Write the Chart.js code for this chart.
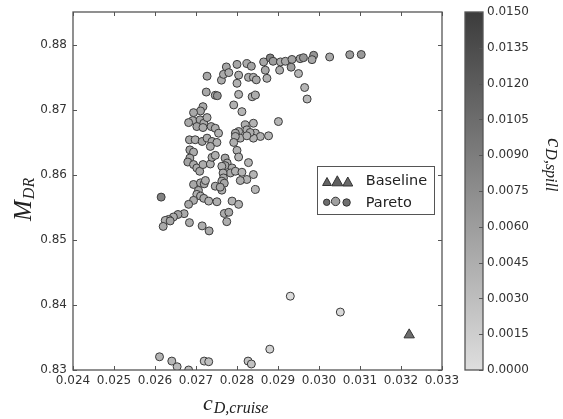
<!DOCTYPE html>
<html><head><meta charset="utf-8">
<script src="https://cdn.jsdelivr.net/npm/chart.js@4"></script>
<style>html,body{margin:0;padding:0;background:#fff}#wrap{width:563px;height:419px}</style>
</head><body><div id="wrap"><canvas id="c" width="563" height="419"></canvas></div>
<script>
// ---- data ----
const paretoCruise = [
0.02727,0.02762,0.02767,0.02774,0.02780,0.02800,0.02804,0.02800,0.02824,0.02835,
0.02828,0.02840,0.02847,0.02865,0.02881,0.02888,0.02869,0.02873,0.02906,0.02918,
0.02934,0.02932,0.02950,0.02954,0.02904,0.02962,0.02987,0.02983,0.03026,0.03075,
0.03103,0.02965,0.02971,
0.02725,0.02747,0.02752,0.02804,0.02837,0.02845,0.02717,0.02711,0.02792,0.02812,
0.02694,0.02692,0.02710,0.02719,0.02727,0.02737,0.02747,0.02755,0.02682,0.02702,
0.02717,0.02684,0.02698,0.02715,0.02727,0.02739,0.02751,0.02735,
0.02901,0.02820,0.02840,0.02804,0.02796,0.02824,0.02845,0.02857,0.02877,0.02808,
0.02840,0.02832,0.02824,0.02796,0.02792,0.02800,0.02804,0.02828,0.02771,0.02776,
0.02771,0.02788,0.02784,0.02796,0.02812,0.02840,
0.02685,0.02694,0.02685,0.02680,0.02694,0.02702,0.02709,0.02717,0.02735,0.02739,
0.02747,0.02763,0.02766,
0.02767,0.02763,0.02769,0.02763,0.02824,0.02808,0.02845,0.02694,0.02711,0.02720,
0.02723,0.02706,0.02702,0.02747,0.02759,0.02711,0.02719,0.02694,0.02682,0.02731,
0.02751,0.02615,0.02788,0.02804,
0.02671,0.02656,0.02645,0.02633,0.02625,0.02620,0.02637,0.02684,0.02715,0.02732,
0.02769,0.02780,0.02775,
0.02611,0.02641,0.02654,0.02682,0.02720,0.02731,0.02827,0.02835,0.02880,0.02930,
0.03052
];
const paretoMdr = [
0.87514,0.87453,0.87542,0.87656,0.87569,0.87695,0.87530,0.87405,0.87707,0.87667,
0.87496,0.87496,0.87458,0.87733,0.87794,0.87743,0.87606,0.87481,0.87733,0.87743,
0.87771,0.87652,0.87554,0.87783,0.87606,0.87798,0.87835,0.87768,0.87809,0.87844,
0.87847,0.87340,0.87163,
0.87270,0.87221,0.87214,0.87234,0.87198,0.87224,0.87046,0.86980,0.87072,0.86969,
0.86954,0.86832,0.86843,0.86791,0.86878,0.86740,0.86714,0.86638,0.86801,0.86740,
0.86725,0.86537,0.86537,0.86511,0.86562,0.86511,0.86496,0.86435,
0.86817,0.86766,0.86791,0.86664,0.86638,0.86690,0.86638,0.86588,0.86598,0.86562,
0.86562,0.86649,0.86598,0.86588,0.86496,0.86374,0.86272,0.86186,0.86256,0.86180,
0.86140,0.86104,0.86027,0.86053,0.86038,0.86003,
0.86382,0.86348,0.86256,0.86195,0.86156,0.86104,0.86053,0.86156,0.86165,0.86267,
0.86298,0.86130,0.86027,
0.85951,0.85901,0.85870,0.85763,0.85927,0.85911,0.85774,0.85850,0.85875,0.85860,
0.85911,0.85759,0.85698,0.85824,0.85809,0.85672,0.85637,0.85606,0.85545,0.85595,
0.85585,0.85656,0.85595,0.85545,
0.85402,0.85389,0.85351,0.85313,0.85298,0.85206,0.85290,0.85264,0.85214,0.85137,
0.85405,0.85423,0.85279,
0.83203,0.83137,0.83050,0.83000,0.83137,0.83127,0.83137,0.83092,0.83320,0.84134,
0.83890
];
const paretoSpill = [
0.0050,0.0045,0.0048,0.0052,0.0046,0.0050,0.0044,0.0042,0.0048,0.0054,
0.0046,0.0043,0.0050,0.0052,0.0085,0.0062,0.0050,0.0042,0.0046,0.0050,
0.0055,0.0060,0.0038,0.0050,0.0044,0.0068,0.0068,0.0050,0.0048,0.0060,
0.0064,0.0038,0.0035,
0.0050,0.0042,0.0068,0.0040,0.0042,0.0046,0.0048,0.0052,0.0042,0.0038,
0.0050,0.0046,0.0052,0.0048,0.0044,0.0050,0.0046,0.0042,0.0048,0.0054,
0.0046,0.0050,0.0044,0.0056,0.0046,0.0050,0.0042,0.0046,
0.0038,0.0044,0.0040,0.0046,0.0050,0.0042,0.0040,0.0042,0.0038,0.0044,
0.0040,0.0046,0.0042,0.0048,0.0044,0.0042,0.0040,0.0038,0.0050,0.0046,
0.0052,0.0044,0.0048,0.0042,0.0040,0.0038,
0.0052,0.0046,0.0050,0.0054,0.0048,0.0044,0.0050,0.0046,0.0042,0.0048,
0.0044,0.0042,0.0046,
0.0048,0.0044,0.0050,0.0042,0.0040,0.0044,0.0036,0.0050,0.0046,0.0052,
0.0044,0.0048,0.0042,0.0046,0.0050,0.0044,0.0048,0.0046,0.0050,0.0042,
0.0044,0.0085,0.0040,0.0042,
0.0048,0.0054,0.0046,0.0050,0.0044,0.0048,0.0052,0.0046,0.0044,0.0048,
0.0046,0.0050,0.0044,
0.0040,0.0036,0.0034,0.0032,0.0028,0.0030,0.0024,0.0026,0.0010,0.0002,
0.0005
];
const baselineCruise = [0.0322];
const baselineMdr = [0.83540];
const baselineSpill = [0.0105];

const xTicks = [0.024,0.025,0.026,0.027,0.028,0.029,0.030,0.031,0.032,0.033];
const yTicks = [0.83,0.84,0.85,0.86,0.87,0.88];
const cbTicks = [0,0.0015,0.0030,0.0045,0.0060,0.0075,0.0090,0.0105,0.0120,0.0135,0.0150];
const spillMin = 0, spillMax = 0.015;

// ---- helpers ----
function spillColor(v){
  const t = Math.max(0, Math.min(1, (v - spillMin) / (spillMax - spillMin)));
  const g = Math.round(222 - t * 162);
  return `rgb(${g},${g},${g})`;
}
function mathLabel(ctx, x, y, angle, mainTxt, subTxt, mainPx, subPx, drop){
  ctx.save();
  ctx.translate(x, y); ctx.rotate(angle);
  ctx.fillStyle = '#222'; ctx.textAlign = 'left'; ctx.textBaseline = 'alphabetic';
  ctx.font = `italic ${mainPx}px "Liberation Serif"`;
  ctx.fillText(mainTxt, 0, 0);
  const w = ctx.measureText(mainTxt).width;
  ctx.font = `italic ${subPx}px "Liberation Serif"`;
  ctx.fillText(subTxt, w + 1, drop);
  ctx.restore();
}
const tickFont = {family: '"DejaVu Sans"', size: 12};
const frameColor = '#555';
function noPad(s){ s.paddingTop = 0; s.paddingBottom = 0; }

const decor = {
  id: 'decor',
  afterDatasetsDraw(chart){
    const {ctx, chartArea: a, scales} = chart;
    ctx.save();
    ctx.strokeStyle = frameColor; ctx.lineWidth = 1;
    ctx.beginPath();
    xTicks.forEach(v => {
      const p = Math.round(scales.x.getPixelForValue(v)) + 0.5;
      ctx.moveTo(p, a.bottom); ctx.lineTo(p, a.bottom - 4);
      ctx.moveTo(p, a.top); ctx.lineTo(p, a.top + 4);
    });
    yTicks.forEach(v => {
      const p = Math.round(scales.y.getPixelForValue(v)) + 0.5;
      ctx.moveTo(a.left, p); ctx.lineTo(a.left + 4, p);
      ctx.moveTo(a.right, p); ctx.lineTo(a.right - 4, p);
    });
    ctx.stroke();
    ctx.lineWidth = 1.3;
    ctx.strokeRect(a.left, a.top, a.right - a.left, a.bottom - a.top);
    ctx.restore();
  },
  afterDraw(chart){
    const {ctx, chartArea: a, scales} = chart;
    const cb = scales.cb;
    // colour bar
    const bx = a.right + 23, bw = 18;
    const yTop = cb.getPixelForValue(spillMax), yBot = cb.getPixelForValue(spillMin);
    ctx.save();
    const grad = ctx.createLinearGradient(0, yBot, 0, yTop);
    grad.addColorStop(0, spillColor(spillMin));
    grad.addColorStop(1, spillColor(spillMax));
    ctx.fillStyle = grad;
    ctx.fillRect(bx, yTop, bw, yBot - yTop);
    ctx.strokeStyle = frameColor; ctx.lineWidth = 1.3;
    ctx.strokeRect(bx, yTop, bw, yBot - yTop);
    ctx.lineWidth = 1;
    ctx.beginPath();
    cbTicks.forEach(v => {
      const p = Math.round(cb.getPixelForValue(v)) + 0.5;
      ctx.moveTo(bx + bw, p); ctx.lineTo(bx + bw - 4, p);
    });
    ctx.stroke();
    ctx.restore();

    // axis labels
    mathLabel(ctx, 203, 410, 0, 'c', 'D,cruise', 22, 16, 3);
    mathLabel(ctx, 31, 221, -Math.PI / 2, 'M', 'DR', 25, 16, 3);
    mathLabel(ctx, 548, 138, Math.PI / 2, 'c', 'D,spill', 21, 16, 2);

    // legend
    ctx.save();
    ctx.fillStyle = '#fff'; ctx.strokeStyle = frameColor; ctx.lineWidth = 1;
    ctx.fillRect(317.5, 166.5, 117, 48);
    ctx.strokeRect(317.5, 166.5, 117, 48);
    ctx.strokeStyle = '#333';
    const tris = [[327, 181.5, 8, 'rgb(100,100,100)'], [337.3, 180.8, 10, 'rgb(95,95,95)'], [347.8, 181.5, 9, 'rgb(105,105,105)']];
    tris.forEach(([cx, cy, s, col]) => {
      ctx.beginPath();
      ctx.moveTo(cx, cy - s / 2); ctx.lineTo(cx + s * 0.55, cy + s / 2); ctx.lineTo(cx - s * 0.55, cy + s / 2); ctx.closePath();
      ctx.fillStyle = col; ctx.fill(); ctx.stroke();
    });
    const circs = [[326.7, 202.3, 3.2, 'rgb(110,110,110)'], [335.6, 201.4, 4.2, 'rgb(160,160,160)'], [346.6, 202.5, 3.7, 'rgb(112,112,112)']];
    circs.forEach(([cx, cy, r, col]) => {
      ctx.beginPath(); ctx.arc(cx, cy, r, 0, Math.PI * 2);
      ctx.fillStyle = col; ctx.fill(); ctx.stroke();
    });
    ctx.fillStyle = '#222'; ctx.font = '14.5px "DejaVu Sans"';
    ctx.textAlign = 'left'; ctx.textBaseline = 'alphabetic';
    ctx.fillText('Baseline', 365.7, 185.3);
    ctx.fillText('Pareto', 365.7, 206.5);
    ctx.restore();
  }
};

new Chart(document.getElementById('c'), {
  type: 'scatter',
  data: {
    datasets: [
      {
        label: 'Pareto',
        data: paretoCruise.map((x, i) => ({x, y: paretoMdr[i]})),
        pointRadius: 4, pointHoverRadius: 4,
        pointBorderWidth: 1,
        pointBackgroundColor: paretoSpill.map(spillColor),
        pointBorderColor: '#3a3a3a',
        clip: 0
      },
      {
        label: 'Baseline',
        data: baselineCruise.map((x, i) => ({x, y: baselineMdr[i]})),
        pointStyle: 'triangle',
        pointRadius: 6, pointHoverRadius: 6,
        pointBorderWidth: 1,
        pointBackgroundColor: baselineSpill.map(spillColor),
        pointBorderColor: '#333',
        clip: 0
      }
    ]
  },
  options: {
    responsive: false, animation: false, devicePixelRatio: 1,
    layout: {padding: {left: 0, right: 0, top: 12, bottom: 0}},
    plugins: {legend: {display: false}, tooltip: {enabled: false}},
    scales: {
      x: {
        type: 'linear', position: 'bottom', min: 0.024, max: 0.033,
        grid: {display: false, drawTicks: false}, border: {display: false},
        afterBuildTicks: s => { s.ticks = xTicks.map(v => ({value: v})); },
        afterFit: s => { s.height = 49; s.paddingLeft = 0; s.paddingRight = 0; },
        ticks: {font: tickFont, color: '#333', padding: 4, autoSkip: false, maxRotation: 0,
          callback: v => Number(v).toFixed(3)}
      },
      y: {
        type: 'linear', position: 'left', min: 0.83, max: 0.885,
        grid: {display: false, drawTicks: false}, border: {display: false},
        afterBuildTicks: s => { s.ticks = yTicks.map(v => ({value: v})); },
        afterFit: s => { s.width = 73; noPad(s); },
        ticks: {font: tickFont, color: '#333', padding: 6,
          callback: v => Number(v).toFixed(2)}
      },
      cb: {
        type: 'linear', position: 'right', min: spillMin, max: spillMax,
        grid: {display: false, drawTicks: false}, border: {display: false},
        afterBuildTicks: s => { s.ticks = cbTicks.map(v => ({value: v})); },
        afterFit: s => { s.width = 121; noPad(s); },
        ticks: {font: tickFont, color: '#333', padding: 45,
          callback: v => Number(v).toFixed(4)}
      }
    }
  },
  plugins: [decor]
});
</script>
</body></html>
